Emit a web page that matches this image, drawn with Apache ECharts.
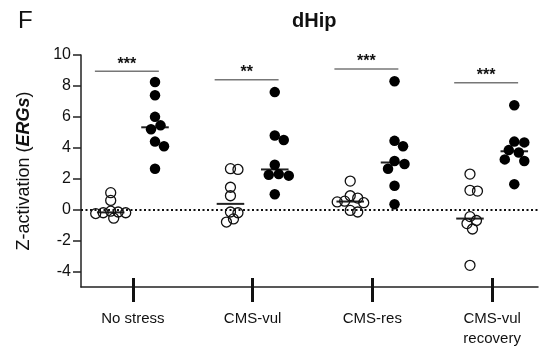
<!DOCTYPE html>
<html>
<head>
<meta charset="utf-8">
<script src="https://cdn.jsdelivr.net/npm/echarts@6/dist/echarts.min.js"></script>
<style>
  html, body { margin: 0; padding: 0; background: #fff; }
  #chart { width: 540px; height: 349px; }
</style>
</head>
<body>
<div id="chart"></div>
<script>
// groups on the x axis
var groups = ['No stress', 'CMS-vul', 'CMS-res', 'CMS-vul\nrecovery']

// Z-activation per animal, open = control, filled = stress
var noStressCtrl = [1.1, 0.6, -0.1, -0.15, -0.2, -0.2, -0.25, -0.55]
var noStressStress = [8.25, 7.4, 6.0, 5.45, 5.2, 4.4, 4.1, 2.65]
var cmsVulCtrl = [2.65, 2.6, 1.45, 0.9, -0.15, -0.2, -0.6, -0.8]
var cmsVulStress = [7.6, 4.8, 4.5, 2.9, 2.3, 2.25, 2.2, 1.0]
var cmsResCtrl = [1.85, 0.9, 0.75, 0.55, 0.5, 0.45, -0.05, -0.15]
var cmsResStress = [8.3, 4.45, 4.1, 3.15, 2.95, 2.65, 1.55, 0.35]
var recoveryCtrl = [2.3, 1.25, 1.2, -0.45, -0.7, -0.9, -1.25, -3.6]
var recoveryStress = [6.75, 4.4, 4.35, 3.85, 3.7, 3.25, 3.15, 1.65]

// significance bars
var sigLevels = [8.95, 8.4, 9.1, 8.2]
var sigLabels = ['***', '**', '***', '***']

// y ticks
var yTicks = [-4, -2, 0, 2, 4, 6, 8, 10]

var ctrlSets = [noStressCtrl, cmsVulCtrl, cmsResCtrl, recoveryCtrl]
var stressSets = [noStressStress, cmsVulStress, cmsResStress, recoveryStress]

var grid = { left: 81, right: 2, top: 55, bottom: 62 }
var xMin = -0.433, xMax = 3.383, yMin = -5, yMax = 10
var pxX = (540 - grid.left - grid.right) / (xMax - xMin)
var pxY = (349 - grid.top - grid.bottom) / (yMax - yMin)
var COL = 0.185

function median (arr) {
  var s = arr.slice().sort(function (a, b) { return a - b })
  var m = Math.floor(s.length / 2)
  return s.length % 2 ? s[m] : (s[m - 1] + s[m]) / 2
}

// simple beeswarm: push points sideways until they stop overlapping
function swarm (vals, cx, dist) {
  var placed = []
  var out = []
  var order = vals.map(function (v, i) { return i }).sort(function (a, b) { return vals[b] - vals[a] })
  order.forEach(function (i) {
    var py = vals[i] * pxY
    for (var k = 0; k < 400; k++) {
      var off = k === 0 ? 0 : (k % 2 ? 1 : -1) * Math.ceil(k / 2) * 0.5
      var ok = placed.every(function (p) { return Math.hypot(p[0] - off, p[1] - py) >= dist })
      if (ok) {
        placed.push([off, py])
        out.push([cx + off / pxX, vals[i]])
        break
      }
    }
  })
  return out
}

var openPts = [], filledPts = [], medians = [], sigData = []
groups.forEach(function (g, i) {
  openPts = openPts.concat(swarm(ctrlSets[i], i - COL, 7.5))
  filledPts = filledPts.concat(swarm(stressSets[i], i + COL, 10))
  medians.push([i - COL, median(ctrlSets[i])])
  medians.push([i + COL, median(stressSets[i])])
  sigData.push([i - 0.05, sigLevels[i]])
})

var font = 'Liberation Sans, Arial, Helvetica, sans-serif'

var chart = echarts.init(document.getElementById('chart'))
chart.setOption({
  animation: false,
  textStyle: { fontFamily: font },
  title: [
    { text: 'F', left: 13, top: 4, textStyle: { fontSize: 24, fontWeight: 'normal', color: '#111', fontFamily: font } },
    { text: 'dHip', left: 287, top: 6, textStyle: { fontSize: 20, fontWeight: 'bold', color: '#111', fontFamily: font } }
  ],
  grid: grid,
  xAxis: [{
    type: 'value',
    min: xMin,
    max: xMax,
    position: 'bottom',
    splitLine: { show: false },
    axisLine: { onZero: false, lineStyle: { color: '#222', width: 1.5 } },
    axisTick: { customValues: [0, 1, 2, 3], length: 15, lineStyle: { color: '#111', width: 3 } },
    axisLabel: {
      customValues: [0, 1, 2, 3],
      margin: 22,
      fontSize: 15,
      lineHeight: 20,
      color: '#111',
      formatter: function (v) { return groups[Math.round(v)] }
    }
  }, {
    type: 'value',
    min: xMin,
    max: xMax,
    position: 'bottom',
    splitLine: { show: false },
    axisLine: { show: false, onZero: false },
    axisLabel: { show: false },
    axisTick: { customValues: [0, 1, 2, 3], inside: true, length: 9, lineStyle: { color: '#111', width: 3 } }
  }],
  yAxis: {
    type: 'value',
    min: yMin,
    max: yMax,
    name: '{a|Z-activation (}{b|ERGs}{a|)}',
    nameLocation: 'middle',
    nameGap: 48,
    nameTextStyle: {
      rich: {
        a: { fontSize: 18, color: '#111', fontFamily: font },
        b: { fontSize: 18, color: '#111', fontWeight: 'bold', fontStyle: 'italic', fontFamily: font }
      }
    },
    splitLine: { show: false },
    axisLine: { show: true, onZero: false, lineStyle: { color: '#222', width: 1.5 } },
    axisTick: { show: true, customValues: yTicks, length: 8, lineStyle: { color: '#222', width: 1.5 } },
    axisLabel: { customValues: yTicks, margin: 10, fontSize: 16, color: '#111' }
  },
  series: [
    {
      // zero reference line
      type: 'scatter',
      data: [],
      z: 0,
      markLine: {
        silent: true,
        symbol: 'none',
        label: { show: false },
        lineStyle: { type: [2, 2.5], width: 2, color: '#111' },
        data: [{ yAxis: 0 }]
      }
    },
    {
      // white fill under the open circles
      type: 'scatter',
      data: openPts,
      symbolSize: 10,
      z: 1,
      itemStyle: { color: '#fff', opacity: 1 }
    },
    {
      type: 'scatter',
      data: openPts,
      symbolSize: 10,
      z: 3,
      itemStyle: { color: 'rgba(255,255,255,0)', borderColor: '#111', borderWidth: 1.3, opacity: 1 }
    },
    {
      type: 'scatter',
      data: filledPts,
      symbolSize: 10.5,
      z: 3,
      itemStyle: { color: '#000', opacity: 1 }
    },
    {
      // median lines
      type: 'custom',
      data: medians,
      z: 2,
      renderItem: function (params, api) {
        var a = api.coord([api.value(0) - 0.115, api.value(1)])
        var b = api.coord([api.value(0) + 0.115, api.value(1)])
        return {
          type: 'line',
          shape: { x1: a[0], y1: a[1], x2: b[0], y2: b[1] },
          style: { stroke: '#222', lineWidth: 2 }
        }
      }
    },
    {
      // significance bars
      type: 'custom',
      data: sigData,
      z: 4,
      renderItem: function (params, api) {
        var a = api.coord([api.value(0) - 0.267, api.value(1)])
        var b = api.coord([api.value(0) + 0.267, api.value(1)])
        return {
          type: 'group',
          children: [{
            type: 'line',
            shape: { x1: a[0], y1: a[1], x2: b[0], y2: b[1] },
            style: { stroke: '#777', lineWidth: 1.5 }
          }, {
            type: 'text',
            x: (a[0] + b[0]) / 2,
            y: a[1] + 1,
            style: {
              text: sigLabels[params.dataIndex],
              fontSize: 16,
              fontWeight: 'bold',
              fontFamily: font,
              fill: '#111',
              align: 'center',
              verticalAlign: 'bottom'
            }
          }]
        }
      }
    }
  ]
})
</script>
</body>
</html>
